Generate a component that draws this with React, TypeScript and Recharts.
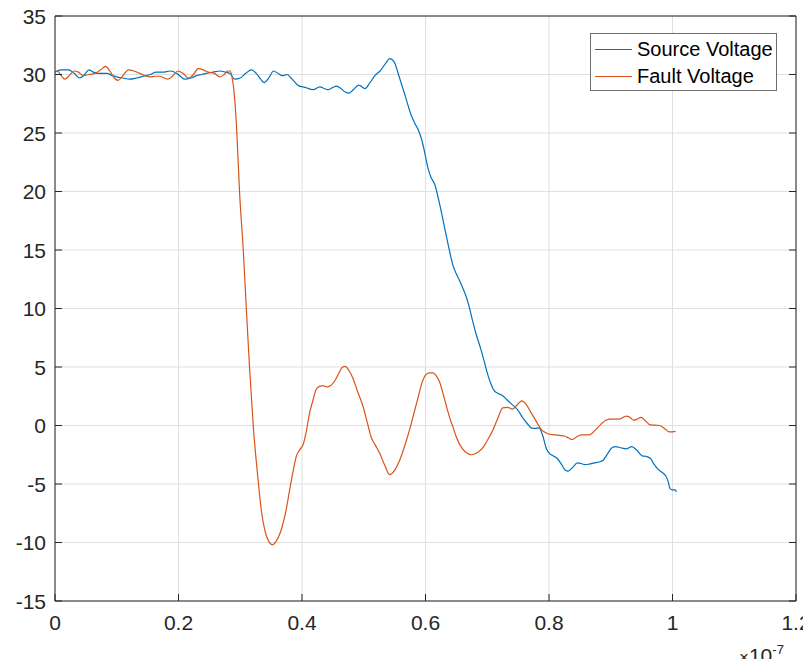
import { LineChart, Line, XAxis, YAxis, CartesianGrid } from "recharts";

// time in units of 1e-7 s, voltage in V
const sourceT = [
  0, 0.01, 0.022, 0.031, 0.04, 0.048, 0.055, 0.062, 0.07, 0.084, 0.093, 0.1, 0.11, 0.121, 0.132, 0.143,
  0.154, 0.164, 0.175, 0.186, 0.197, 0.204, 0.21, 0.22, 0.229, 0.238, 0.245, 0.256, 0.267, 0.276, 0.283,
  0.291, 0.3, 0.309, 0.318, 0.326, 0.333, 0.339, 0.346, 0.354, 0.361, 0.368, 0.376, 0.384, 0.394, 0.405,
  0.418, 0.429, 0.436, 0.442, 0.45, 0.456, 0.463, 0.47, 0.476, 0.483, 0.492, 0.502, 0.51, 0.518, 0.528,
  0.536, 0.542, 0.549, 0.558, 0.567, 0.577, 0.583, 0.588, 0.594, 0.598, 0.604, 0.609, 0.615, 0.623,
  0.631, 0.639, 0.645, 0.65, 0.655, 0.66, 0.666, 0.671, 0.676, 0.682, 0.688, 0.695, 0.7, 0.706, 0.711,
  0.717, 0.725, 0.732, 0.739, 0.749, 0.757, 0.765, 0.771, 0.778, 0.784, 0.79, 0.796, 0.801, 0.807,
  0.813, 0.82, 0.826, 0.831, 0.838, 0.846, 0.852, 0.858, 0.865, 0.873, 0.882, 0.888, 0.895, 0.902,
  0.908, 0.916, 0.925, 0.934, 0.942, 0.951, 0.958, 0.964, 0.97, 0.976, 0.983, 0.989, 0.993, 0.996, 1.0,
  1.005, 1.006,
];
const sourceV = [
  30.2, 30.4, 30.4, 30.1, 29.7, 30.0, 30.4, 30.2, 30.1, 30.1, 29.9, 29.8, 29.7, 29.6, 29.7, 29.85,
  30.0, 30.2, 30.2, 30.3, 30.1, 29.8, 29.6, 29.7, 29.9, 30.0, 30.1, 30.2, 30.3, 30.2, 30.1,
  29.6, 29.7, 30.1, 30.4, 30.1, 29.6, 29.3, 29.7, 30.3, 30.1, 29.9, 30.0, 29.6, 29.05, 28.9,
  28.7, 28.95, 28.8, 28.7, 28.9, 29.0, 28.8, 28.5, 28.4, 28.7, 29.1, 28.8, 29.3, 29.9, 30.4,
  31.0, 31.35, 31.1, 29.7, 28.2, 26.5, 25.8, 25.3, 24.4, 23.5, 22.0, 21.2, 20.6, 18.9,
  16.9, 14.9, 13.6, 12.95, 12.4, 11.8, 11.0, 10.1, 9.0, 7.8, 6.8, 5.5, 4.5, 3.55, 3.0,
  2.75, 2.55, 2.2, 1.85, 1.35, 0.7, 0.15, -0.2, -0.25, -0.2, -0.9, -2.0, -2.4, -2.6,
  -2.8, -3.3, -3.8, -3.9, -3.6, -3.2, -3.25, -3.35, -3.3, -3.2, -3.1, -2.95, -2.4, -1.9,
  -1.8, -1.9, -2.0, -1.8, -2.1, -2.6, -2.65, -2.8, -3.3, -3.7, -4.0, -4.3, -4.8, -5.4, -5.5,
  -5.5, -5.7,
];

const faultT = [
  0, 0.004, 0.01, 0.016, 0.023, 0.031, 0.038, 0.046, 0.055, 0.065, 0.074, 0.082, 0.09, 0.096, 0.102,
  0.11, 0.119, 0.128, 0.137, 0.146, 0.154, 0.162, 0.17, 0.177, 0.183, 0.191, 0.199, 0.207, 0.216, 0.224,
  0.232, 0.24, 0.248, 0.258, 0.267, 0.274, 0.28, 0.284, 0.287, 0.29, 0.294, 0.299, 0.305, 0.31, 0.315,
  0.321, 0.329, 0.334, 0.34, 0.346, 0.352, 0.358, 0.367, 0.374, 0.38, 0.386, 0.391, 0.396, 0.402, 0.407,
  0.412, 0.418, 0.423, 0.428, 0.434, 0.44, 0.446, 0.453, 0.46, 0.465, 0.47, 0.476, 0.482, 0.49, 0.499,
  0.506, 0.512, 0.519, 0.526, 0.534, 0.542, 0.549, 0.558, 0.566, 0.574, 0.581, 0.588, 0.594, 0.6, 0.606,
  0.612, 0.618, 0.623, 0.63, 0.639, 0.645, 0.65, 0.66, 0.667, 0.674, 0.683, 0.693, 0.701, 0.709, 0.717,
  0.725, 0.733, 0.741, 0.749, 0.756, 0.763, 0.771, 0.779, 0.787, 0.794, 0.801, 0.809, 0.817, 0.825,
  0.831, 0.837, 0.844, 0.852, 0.865, 0.875, 0.884, 0.892, 0.9, 0.914, 0.925, 0.931, 0.937, 0.943, 0.949,
  0.956, 0.964, 0.979, 0.987, 0.995, 1.005,
];
const faultV = [
  30.2, 30.3, 29.9, 29.6, 29.9, 30.3, 30.2, 29.9, 30.0, 30.1, 30.4, 30.7, 30.2, 29.7, 29.5,
  29.9, 30.4, 30.3, 30.1, 29.9, 29.8, 29.85, 29.85, 29.7, 29.6, 29.9, 30.3, 30.1, 29.7, 30.0,
  30.5, 30.4, 30.2, 30.1, 29.8, 30.0, 30.3, 30.3, 29.7, 28.5, 25.5, 19.8, 14.9, 9.8, 5.0,
  0.0, -4.7, -7.2, -9.0, -9.9, -10.2, -9.9, -8.8, -7.3, -5.5, -3.8, -2.6, -2.1, -1.6, -0.5,
  1.0, 2.2, 3.1, 3.35, 3.4, 3.3, 3.4, 3.8, 4.5, 4.95, 5.05, 4.7, 4.1, 2.9, 1.6,
  0.2, -1.0, -1.7, -2.4, -3.4, -4.2, -3.9, -3.0, -1.8, -0.4, 1.0, 2.4, 3.6, 4.3, 4.5,
  4.5, 4.2, 3.7, 2.4, 0.7, -0.2, -1.0, -2.0, -2.35, -2.5, -2.35, -1.9, -1.2, -0.4, 0.6,
  1.5, 1.55, 1.4, 1.8, 2.1, 1.8, 1.1, 0.4, -0.3, -0.6, -0.75, -0.8, -0.85, -0.9,
  -1.05, -1.2, -1.0, -0.8, -0.8, -0.4, 0.1, 0.45, 0.55, 0.55, 0.8, 0.7, 0.45, 0.55, 0.7,
  0.4, 0.05, 0.0, -0.25, -0.55, -0.5,
];

const xTicks = [0, 0.2, 0.4, 0.6, 0.8, 1, 1.2];
const yTicks = [-15, -10, -5, 0, 5, 10, 15, 20, 25, 30, 35];

const sourceData = sourceT.map((t, i) => ({ t, v: sourceV[i] }));
const faultData = faultT.map((t, i) => ({ t, v: faultV[i] }));

const FONT = "'Liberation Sans', Arial, Helvetica, sans-serif";
const AXIS = "#262626";
const BLUE = "#0072BD";
const ORANGE = "#D95319";
const TICK_LEN = 7;

const BottomTick = (props: any) => {
  const { x, y, payload } = props;
  return (
    <g>
      <line x1={x} y1={y} x2={x} y2={y - TICK_LEN} stroke={AXIS} strokeWidth={1} />
      <text x={x} y={y + 29} textAnchor="middle" fill={AXIS} fontSize={21} fontFamily={FONT}>
        {payload.value}
      </text>
    </g>
  );
};

const TopTick = (props: any) => {
  const { x, y } = props;
  return <line x1={x} y1={y} x2={x} y2={y + TICK_LEN} stroke={AXIS} strokeWidth={1} />;
};

const LeftTick = (props: any) => {
  const { x, y, payload } = props;
  return (
    <g>
      <line x1={x} y1={y} x2={x + TICK_LEN} y2={y} stroke={AXIS} strokeWidth={1} />
      <text x={x - 9} y={y + 7.5} textAnchor="end" fill={AXIS} fontSize={21} fontFamily={FONT}>
        {payload.value}
      </text>
    </g>
  );
};

const RightTick = (props: any) => {
  const { x, y } = props;
  return <line x1={x} y1={y} x2={x - TICK_LEN} y2={y} stroke={AXIS} strokeWidth={1} />;
};

const legendItems = [
  { name: "Source Voltage", color: BLUE },
  { name: "Fault Voltage", color: ORANGE },
];

const App = () => {
  // pull the wrapper over the body margins so page pixels == chart pixels
  return (
    <div
      style={{
        position: "relative",
        width: 811,
        height: 667,
        margin: "-8px 0 -8px -8px",
        fontFamily: FONT,
      }}
    >
      <LineChart
        width={811}
        height={659}
        margin={{ top: 15, right: 14, bottom: 0, left: 0 }}
      >
        <CartesianGrid xAxisId="b" yAxisId="l" stroke="#dfdfdf" />
        <XAxis
          xAxisId="b"
          dataKey="t"
          type="number"
          domain={[0, 1.2]}
          ticks={xTicks}
          height={58}
          tickSize={0}
          tickMargin={0}
          tickLine={false}
          axisLine={{ stroke: AXIS }}
          tick={<BottomTick />}
          interval={0}
          allowDataOverflow
        />
        <XAxis
          xAxisId="t"
          orientation="top"
          type="number"
          domain={[0, 1.2]}
          ticks={xTicks}
          height={1}
          tickSize={0}
          tickMargin={0}
          tickLine={false}
          axisLine={{ stroke: AXIS }}
          tick={<TopTick />}
          interval={0}
          allowDataOverflow
        />
        <YAxis
          yAxisId="l"
          type="number"
          domain={[-15, 35]}
          ticks={yTicks}
          width={55}
          tickSize={0}
          tickMargin={0}
          tickLine={false}
          axisLine={{ stroke: AXIS }}
          tick={<LeftTick />}
          interval={0}
          allowDataOverflow
        />
        <YAxis
          yAxisId="r"
          orientation="right"
          type="number"
          domain={[-15, 35]}
          ticks={yTicks}
          width={1}
          tickSize={0}
          tickMargin={0}
          tickLine={false}
          axisLine={{ stroke: AXIS }}
          tick={<RightTick />}
          interval={0}
          allowDataOverflow
        />
        <Line
          xAxisId="b"
          yAxisId="l"
          data={sourceData}
          dataKey="v"
          name="Source Voltage"
          stroke={BLUE}
          strokeWidth={1.2}
          dot={false}
          type="monotone"
          isAnimationActive={false}
        />
        <Line
          xAxisId="b"
          yAxisId="l"
          data={faultData}
          dataKey="v"
          name="Fault Voltage"
          stroke={ORANGE}
          strokeWidth={1.2}
          dot={false}
          type="monotone"
          isAnimationActive={false}
        />
      </LineChart>

      {/* legend box, top right inside the axes */}
      <div
        style={{
          position: "absolute",
          left: 590,
          top: 33,
          width: 185,
          height: 56,
          border: "1px solid #6e6e6e",
          background: "#fff",
        }}
      >
        {legendItems.map((item, i) => (
          <div
            key={item.name}
            style={{
              position: "absolute",
              left: 4,
              top: 3 + i * 27,
              height: 24,
              display: "flex",
              alignItems: "center",
              whiteSpace: "nowrap",
            }}
          >
            <span style={{ width: 37, height: 1, background: item.color, display: "inline-block" }} />
            <span style={{ marginLeft: 5, fontSize: 20, color: "#000", lineHeight: "24px" }}>{item.name}</span>
          </div>
        ))}
      </div>

      {/* x axis exponent */}
      <div
        style={{
          position: "absolute",
          left: 739,
          top: 645,
          fontSize: 21,
          lineHeight: "21px",
          color: AXIS,
          whiteSpace: "nowrap",
        }}
      >
        <span style={{ fontSize: 17 }}>×</span>10
        <span style={{ fontSize: 13, position: "relative", top: -9 }}>-7</span>
      </div>
    </div>
  );
};

export default App;
